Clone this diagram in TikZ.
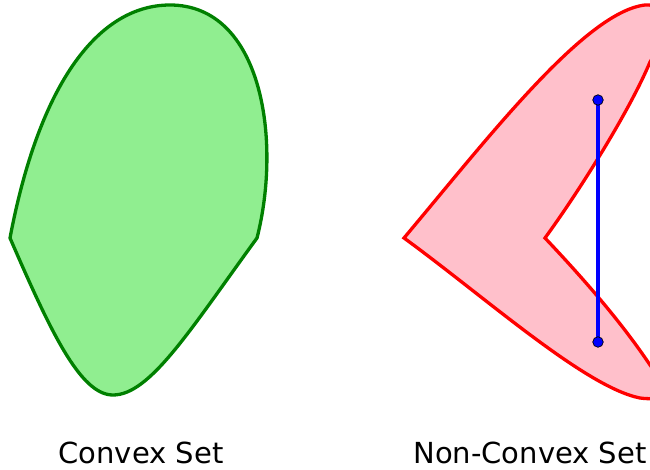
\documentclass[tikz,border=0pt]{standalone}
\usepackage{fontspec}
\setmainfont{DejaVu Sans}
\definecolor{lightgreenfill}{HTML}{90EE90}
\definecolor{darkgreenline}{HTML}{008000}
\definecolor{pinkfill}{HTML}{FFC0CB}
\definecolor{redline}{HTML}{FF0000}
\definecolor{bluepure}{HTML}{0000FF}
\tikzset{
  convexshape/.style={draw=darkgreenline, fill=lightgreenfill, line width=3.3pt, line join=miter},
  nonconvexshape/.style={draw=redline, fill=pinkfill, line width=3.3pt, line join=miter},
  segment/.style={draw=bluepure, line width=3.5pt},
  endpoint/.style={circle, fill=bluepure, draw=black, line width=0.7pt, minimum size=10.5pt, inner sep=0pt},
  caption/.style={anchor=base, font=\fontsize{29}{34}\selectfont, inner sep=0pt, text depth=0pt}
}
\begin{document}
\begin{tikzpicture}[x=1pt,y=-1pt]
  \useasboundingbox (0,0) rectangle (650,469);
  \clip (0,0) rectangle (650,469);

  % convex set
  \path[convexshape] (10,238)
    .. controls (40,80) and (100,5) .. (170,5)
    .. controls (262,5) and (282,140) .. (257,238)
    .. controls (190,330) and (150,395) .. (113,395)
    .. controls (80,395) and (50,330) .. (10,238) -- cycle;

  % non-convex set (boomerang)
  \path[nonconvexshape] (404,238)
    .. controls (488,138) and (585,12) .. (645,5)
    .. controls (670,3) and (668,35) .. (650,62)
    .. controls (630,110) and (580,190) .. (545,238)
    .. controls (580,275) and (620,320) .. (650,365)
    .. controls (668,388) and (668,402) .. (640,398)
    .. controls (585,387) and (485,297) .. (404,238) -- cycle;

  % segment leaving the set
  \draw[segment] (598,100) coordinate (ptopc) -- (598,342) coordinate (pbotc);
  \node[endpoint] (ptop) at (ptopc) {};
  \node[endpoint] (pbot) at (pbotc) {};

  \node[caption] (lblconvex) at (141,463.5) {Convex Set};
  \node[caption] (lblnonconvex) at (530,463.5) {Non-Convex Set};
\end{tikzpicture}
\end{document}
